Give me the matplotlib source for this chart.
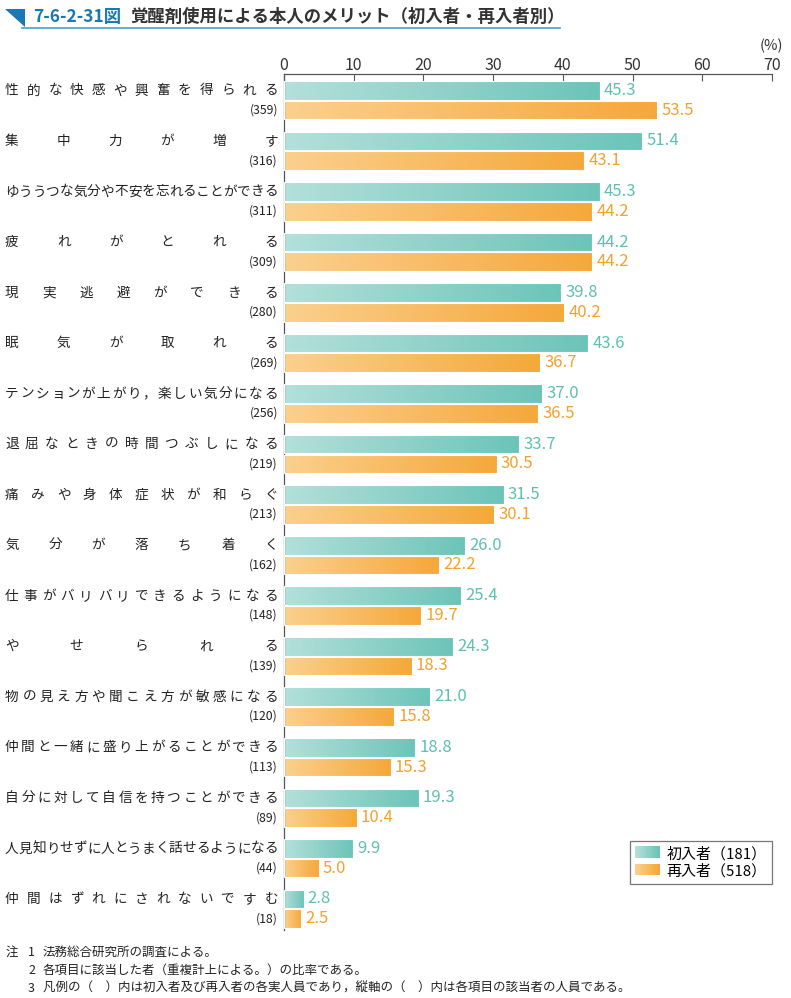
import numpy as np
import matplotlib.pyplot as plt
from matplotlib.colors import LinearSegmentedColormap
from matplotlib.patches import Polygon, Rectangle
from matplotlib.legend_handler import HandlerBase

plt.rcParams['font.family'] = ['Noto Sans CJK JP', 'DejaVu Sans']

categories = [
    '性的な快感や興奮を得られる', '集中力が増す', 'ゆううつな気分や不安を忘れることができる',
    '疲れがとれる', '現実逃避ができる', '眠気が取れる', 'テンションが上がり，楽しい気分になる',
    '退屈なときの時間つぶしになる', '痛みや身体症状が和らぐ', '気分が落ち着く',
    '仕事がバリバリできるようになる', 'やせられる', '物の見え方や聞こえ方が敏感になる',
    '仲間と一緒に盛り上がることができる', '自分に対して自信を持つことができる',
    '人見知りせずに人とうまく話せるようになる', '仲間はずれにされないですむ',
]
counts = [359, 316, 311, 309, 280, 269, 256, 219, 213, 162, 148, 139, 120, 113, 89, 44, 18]
first = [45.3, 51.4, 45.3, 44.2, 39.8, 43.6, 37.0, 33.7, 31.5, 26.0, 25.4, 24.3, 21.0, 18.8, 19.3, 9.9, 2.8]
repeat = [53.5, 43.1, 44.2, 44.2, 40.2, 36.7, 36.5, 30.5, 30.1, 22.2, 19.7, 18.3, 15.8, 15.3, 10.4, 5.0, 2.5]
legend_labels = ['初入者（181）', '再入者（518）']
xticks = [0, 10, 20, 30, 40, 50, 60, 70]

teal_cmap = LinearSegmentedColormap.from_list('teal', ['#b3e0da', '#6cc4b9'])
orange_cmap = LinearSegmentedColormap.from_list('orange', ['#fbd08e', '#f5a83a'])
teal_text = '#5fbfb3'
orange_text = '#f4a12e'
blue = '#1a78b4'

W, H = 791, 998
fig = plt.figure(figsize=(W / 100, H / 100), dpi=100)
ax = fig.add_axes([284 / W, 1 - 930 / H, (772 - 284) / W, (930 - 74) / H])

grad = np.tile(np.linspace(0, 1, 256), (4, 1))
bh = 0.37
off = 0.195
ypos = np.arange(len(categories))


def gradient_bars(vals, ys, cmap):
    bars = ax.barh(ys, vals, height=bh, color='none', edgecolor='white', linewidth=0.8, zorder=3)
    for b, v, y in zip(bars, vals, ys):
        im = ax.imshow(grad, cmap=cmap, aspect='auto',
                       extent=[0, v, y + bh / 2 + 0.05, y - bh / 2 - 0.05],
                       interpolation='bilinear', zorder=2)
        im.set_clip_path(b)
    return bars


gradient_bars(first, ypos - off, teal_cmap)
gradient_bars(repeat, ypos + off, orange_cmap)
for i in range(len(categories)):
    ax.text(first[i] + 0.6, i - off, f'{first[i]:.1f}', color=teal_text, fontsize=12,
            va='center', ha='left')
    ax.text(repeat[i] + 0.6, i + off, f'{repeat[i]:.1f}', color=orange_text, fontsize=12,
            va='center', ha='left')

ax.set_xlim(0, 70)
ax.set_ylim(16.42, -0.52)
ax.xaxis.tick_top()
ax.set_xticks(xticks)
ax.tick_params(axis='x', direction='in', length=5, width=0.8, color='#555555',
               labelsize=11.5, pad=0, labelcolor='#333333')
ax.set_yticks([])
for s in ['right', 'bottom']:
    ax.spines[s].set_visible(False)
for s in ['top', 'left']:
    ax.spines[s].set_color('#555555')
    ax.spines[s].set_linewidth(0.9)
ax.set_facecolor('none')
fig.text(771 / W, 1 - 46 / H, '(%)', ha='center', va='center', fontsize=10.5, color='#333333')

# category labels, distributed across the label area
tr = ax.transData
x0, x1 = 5, 278
cw = 13.7
for i, lab in enumerate(categories):
    yfig = fig.transFigure.inverted().transform(tr.transform((0, i - off)))[1]
    n = len(lab)
    xs = np.linspace(x0 + cw / 2, x1 - cw / 2, n) if n > 1 else [x1 - cw / 2]
    for ch, xc in zip(lab, xs):
        fig.text(xc / W, yfig, ch, ha='center', va='center', fontsize=9.8, color='#222222')
    yc = fig.transFigure.inverted().transform(tr.transform((0, i + off)))[1]
    fig.text(x1 / W, yc, f'({counts[i]})', ha='right', va='center', fontsize=8.8, color='#222222')


# legend with gradient swatches
class GradHandler(HandlerBase):
    def __init__(self, cmap):
        super().__init__()
        self.cmap = cmap

    def create_artists(self, legend, orig, xd, yd, width, height, fontsize, trans):
        arts = []
        n = 20
        for k in range(n):
            r = Rectangle((xd + width * k / n, yd), width / n + 0.3, height,
                          fc=self.cmap(k / (n - 1)), ec='none', transform=trans)
            arts.append(r)
        return arts


h1 = Rectangle((0, 0), 1, 1)
h2 = Rectangle((0, 0), 1, 1)
leg = ax.legend([h1, h2], legend_labels, loc='lower right', bbox_to_anchor=(1.0, 0.054),
                handler_map={h1: GradHandler(teal_cmap), h2: GradHandler(orange_cmap)},
                fontsize=10.8, frameon=True, fancybox=False, edgecolor='#555555',
                handlelength=1.6, handleheight=0.8, borderpad=0.35, labelspacing=0.2,
                handletextpad=0.5, borderaxespad=0)
leg.get_frame().set_linewidth(0.9)

# title
fig.add_artist(Polygon([[5 / W, 1 - 9 / H], [25 / W, 1 - 9 / H], [25 / W, 1 - 27 / H]],
                       closed=True, fc=blue, ec='none', transform=fig.transFigure))
fig.add_artist(plt.Line2D([22 / W, 560 / W], [1 - 27.5 / H, 1 - 27.5 / H], color='#4a9fd0',
                          lw=1.2, transform=fig.transFigure))
fig.text(33 / W, 1 - 17 / H, '7-6-2-31図', ha='left', va='center', fontsize=12.5,
         fontweight='bold', color=blue)
fig.text(130 / W, 1 - 17 / H, '覚醒剤使用による本人のメリット（初入者・再入者別）', ha='left',
         va='center', fontsize=12.5, fontweight='bold', color='#333333')

# notes
notes = [
    ('注', '1', '法務総合研究所の調査による。'),
    ('', '2', '各項目に該当した者（重複計上による。）の比率である。'),
    ('', '3', '凡例の（　）内は初入者及び再入者の各実人員であり，縦軸の（　）内は各項目の該当者の人員である。'),
]
for k, (a, b, c) in enumerate(notes):
    yy = 1 - (952 + k * 18) / H
    if a:
        fig.text(6 / W, yy, a, ha='left', va='center', fontsize=9, color='#222222')
    fig.text(28 / W, yy, b, ha='left', va='center', fontsize=9, color='#222222')
    fig.text(43 / W, yy, c, ha='left', va='center', fontsize=9, color='#222222')

fig.savefig('out.png', dpi=100)
